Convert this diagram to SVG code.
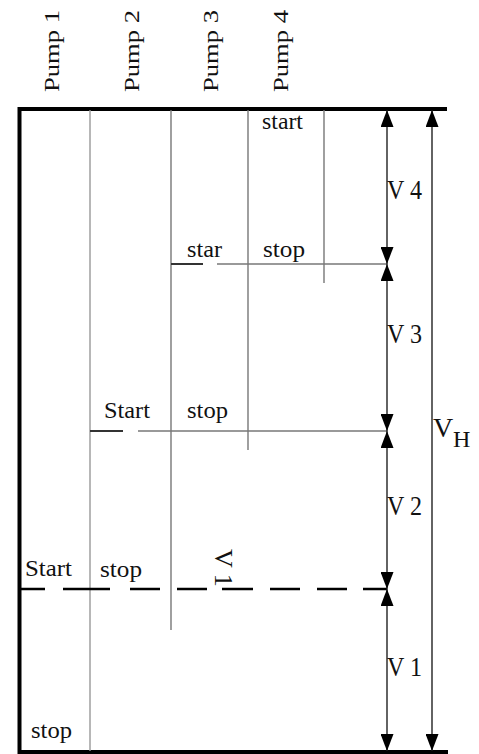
<svg xmlns="http://www.w3.org/2000/svg" width="479" height="754" viewBox="0 0 479 754">
<style>
  .lbl { font-size: 23px; fill: #111; }
  .pump { font-size: 20px; fill: #111; }
  .vol { font-size: 28px; fill: #111; }
  .frame { stroke: #000; stroke-width: 4; fill: none; }
  .col { stroke: #777; stroke-width: 1.4; fill: none; }
  .lvl { stroke: #777; stroke-width: 1.4; fill: none; }
  .lvldash { stroke: #333; stroke-width: 2; fill: none; }
  .dash1 { stroke: #000; stroke-width: 2.5; fill: none; }
  .dim { stroke: #222; stroke-width: 1.4; fill: none; marker-start: url(#arr); marker-end: url(#arr); }
</style>
<defs>
  <marker id="arr" viewBox="0 0 17 13" refX="17" refY="6.5" markerWidth="17" markerHeight="13" markerUnits="userSpaceOnUse" orient="auto-start-reverse">
    <path d="M0,0 L17,6.5 L0,13 z" fill="#000"/>
  </marker>
</defs>
<rect width="479" height="754" fill="#fff"/>

<g id="frame">
  <path class="frame" d="M447,109 H19.5 V752 H448"/>
</g>

<g id="pump1">
  <text font-family="Liberation Serif, serif" class="pump" transform="translate(59,92) rotate(-90)" textLength="82" lengthAdjust="spacingAndGlyphs">Pump 1</text>
</g>
<g id="pump2">
  <line class="col" x1="90" y1="110" x2="90" y2="751" style="stroke:#999"/>
  <text font-family="Liberation Serif, serif" class="pump" transform="translate(139,92) rotate(-90)" textLength="82" lengthAdjust="spacingAndGlyphs">Pump 2</text>
</g>
<g id="pump3">
  <line class="col" x1="171" y1="110" x2="171" y2="630"/>
  <text font-family="Liberation Serif, serif" class="pump" transform="translate(218,92) rotate(-90)" textLength="82" lengthAdjust="spacingAndGlyphs">Pump 3</text>
</g>
<g id="pump4">
  <line class="col" x1="248" y1="110" x2="248" y2="450"/>
  <text font-family="Liberation Serif, serif" class="pump" transform="translate(288,92) rotate(-90)" textLength="82" lengthAdjust="spacingAndGlyphs">Pump 4</text>
</g>
<g id="col5">
  <line class="col" x1="324" y1="110" x2="324" y2="283"/>
</g>

<g id="level4">
  <text font-family="Liberation Serif, serif" class="lbl" x="262" y="129" textLength="41" lengthAdjust="spacingAndGlyphs">start</text>
</g>
<g id="level3">
  <line class="lvldash" x1="171" y1="264" x2="203" y2="264"/>
  <line class="lvl" x1="217" y1="264" x2="387" y2="264"/>
  <text font-family="Liberation Serif, serif" class="lbl" x="187" y="257" textLength="35" lengthAdjust="spacingAndGlyphs">star</text>
  <text font-family="Liberation Serif, serif" class="lbl" x="263" y="257" textLength="42" lengthAdjust="spacingAndGlyphs">stop</text>
</g>
<g id="level2">
  <line class="lvldash" x1="90" y1="431" x2="123" y2="431"/>
  <line class="lvl" x1="138" y1="431" x2="387" y2="431"/>
  <text font-family="Liberation Serif, serif" class="lbl" x="104" y="418" textLength="46" lengthAdjust="spacingAndGlyphs">Start</text>
  <text font-family="Liberation Serif, serif" class="lbl" x="187" y="418" textLength="41" lengthAdjust="spacingAndGlyphs">stop</text>
</g>
<g id="level1">
  <path class="dash1" d="M19,589 H45 M63,589 H110 M130,589 H160 M177,589 H207 M222,589 H253 M270,589 H300 M317,589 H347 M363,589 H387"/>
  <text font-family="Liberation Serif, serif" class="lbl" x="25" y="576" textLength="47" lengthAdjust="spacingAndGlyphs">Start</text>
  <text font-family="Liberation Serif, serif" class="lbl" x="100" y="577" textLength="42" lengthAdjust="spacingAndGlyphs">stop</text>
  <text font-family="Liberation Serif, serif" class="vol" style="font-size:26px" transform="translate(215,549) rotate(90)">V 1</text>
</g>
<g id="level0">
  <text font-family="Liberation Serif, serif" class="lbl" x="31" y="738" textLength="41" lengthAdjust="spacingAndGlyphs">stop</text>
</g>

<g id="connectors">
  <line class="dim" x1="387" y1="264" x2="387" y2="110"/>
  <line class="dim" x1="387" y1="264" x2="387" y2="431"/>
  <line class="dim" x1="387" y1="431" x2="387" y2="589"/>
  <line class="dim" x1="387" y1="589" x2="387" y2="751"/>
  <line class="dim" x1="432" y1="110" x2="432" y2="751"/>
</g>

<g id="dims">
  <text font-family="Liberation Serif, serif" class="vol" x="387" y="199" textLength="35" lengthAdjust="spacingAndGlyphs">V 4</text>
  <text font-family="Liberation Serif, serif" class="vol" x="387" y="343" textLength="35" lengthAdjust="spacingAndGlyphs">V 3</text>
  <text font-family="Liberation Serif, serif" class="vol" x="387" y="515" textLength="35" lengthAdjust="spacingAndGlyphs">V 2</text>
  <text font-family="Liberation Serif, serif" class="vol" x="387" y="676" textLength="35" lengthAdjust="spacingAndGlyphs">V 1</text>
  <text font-family="Liberation Serif, serif" class="vol" x="433" y="437">V</text>
  <text font-family="Liberation Serif, serif" font-size="24" fill="#111" x="453" y="447">H</text>
</g>
</svg>
